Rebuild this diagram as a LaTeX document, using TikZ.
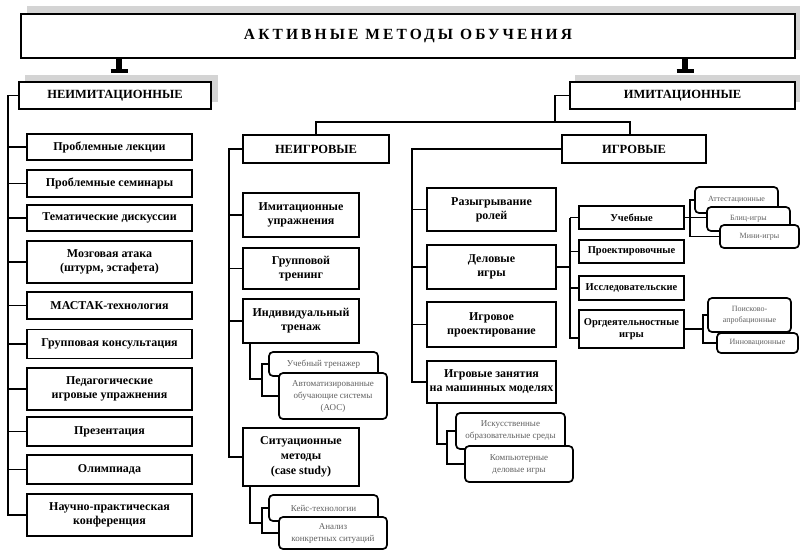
\documentclass[tikz,border=0pt]{standalone}
\usepackage{fontspec}
\setmainfont{Liberation Serif}
\begin{document}
\begin{tikzpicture}[x=1pt,y=-1pt,
  conn/.style={line width=1.9pt},
  shadowc/.style={fill=black!17},
  box/.style={draw, line width=1.7pt, fill=white, inner sep=1pt, align=center,
              font=\bfseries\fontsize{12}{14}\selectfont},
  hbox/.style={box, font=\bfseries\fontsize{12.5}{14}\selectfont},
  dbox/.style={box, font=\bfseries\fontsize{10.5}{12.5}\selectfont},
  rbox/.style={draw, line width=1.7pt, rounded corners=4pt, fill=white, inner sep=1pt,
               align=center, text=black!62, font=\fontsize{9}{12}\selectfont},
  ubox/.style={rbox, font=\fontsize{8}{10.5}\selectfont},
  wh/.style 2 args={minimum width=#1pt, minimum height=#2pt}]
\useasboundingbox (0,0) rectangle (800,550);
\fill[white] (0,0) rectangle (800,550);

% shadows
\fill[shadowc] (27,6) rectangle (800,50);
\fill[shadowc] (25,75) rectangle (218,102);
\fill[shadowc] (575,75) rectangle (800,102);

% title
\node[draw, line width=1.7pt, fill=white, wh={774}{44}] (title) at (408,36)
  {\fontsize{15.5}{18}\selectfont\bfseries\addfontfeatures{LetterSpace=20}АКТИВНЫЕ МЕТОДЫ ОБУЧЕНИЯ};

\coordinate (st1) at (119,71);
\coordinate (st2) at (685,71);
\draw[line width=6pt] (st1 |- title.south) -- (st1);
\draw[line width=3.5pt] (st1) ++(-8.5,0) -- ++(17,0);
\draw[line width=6pt] (st2 |- title.south) -- (st2);
\draw[line width=3.5pt] (st2) ++(-8.5,0) -- ++(17,0);

% top categories
\node[hbox, wh={192}{27}] (nim) at (115,95.5) {НЕИМИТАЦИОННЫЕ};
\node[hbox, wh={225}{27}] (im) at (682.5,95.5) {ИМИТАЦИОННЫЕ};

% left column
\node[box, wh={165}{26}] (L1) at (109.5,147) {Проблемные лекции};
\node[box, wh={165}{27}] (L2) at (109.5,183.5) {Проблемные семинары};
\node[box, wh={165}{26}] (L3) at (109.5,218) {Тематические дискуссии};
\node[box, wh={165}{42}] (L4) at (109.5,262) {Мозговая атака\\(штурм, эстафета)};
\node[box, wh={165}{27}] (L5) at (109.5,305.5) {МАСТАК-технология};
\node[box, wh={165}{29}] (L6) at (109.5,344) {Групповая консультация};
\node[box, wh={165}{42}] (L7) at (109.5,389) {Педагогические\\игровые упражнения};
\node[box, wh={165}{29}] (L8) at (109.5,431.5) {Презентация};
\node[box, wh={165}{29}] (L9) at (109.5,469.5) {Олимпиада};
\node[box, wh={165}{42}] (L10) at (109.5,515) {Научно-практическая\\конференция};

\coordinate (lb) at (8,0);
\draw[conn] (nim.west) -- (nim.west -| lb) -- (L10.west -| lb) -- (L10.west);
\foreach \n in {L1,L2,L3,L4,L5,L6,L7,L8,L9}
  \draw[conn] (\n.west -| lb) -- (\n.west);

% second level
\node[hbox, wh={146}{28}] (neig) at (316,149) {НЕИГРОВЫЕ};
\node[hbox, wh={144}{28}] (igr) at (634,149) {ИГРОВЫЕ};

\coordinate (imx) at (555,122);
\coordinate (ig1) at (630,122);
\draw[conn] (im.west) -- (im.west -| imx) -- (imx);
\draw[conn] (neig.north) -- (neig.north |- imx) -- (ig1) -- (ig1 |- igr.north);

% non-game children
\node[box, wh={116}{44}] (N1) at (301,215) {Имитационные\\упражнения};
\node[box, wh={116}{41}] (N2) at (301,268.5) {Групповой\\тренинг};
\node[box, wh={116}{44}] (N3) at (301,321) {Индивидуальный\\тренаж};
\node[box, wh={116}{58}, font=\bfseries\fontsize{12}{15}\selectfont] (N4) at (301,457) {Ситуационные\\методы\\(case study)};

\coordinate (nb) at (229,0);
\draw[conn] (neig.west) -- (neig.west -| nb) -- (N4.west -| nb) -- (N4.west);
\foreach \n in {N1,N2,N3}
  \draw[conn] (\n.west -| nb) -- (\n.west);

\node[rbox, wh={109}{24}] (s1) at (323.5,364) {Учебный тренажер};
\node[rbox, wh={108}{46}] (s2) at (333,396) {Автоматизированные\\обучающие системы\\(АОС)};
\node[rbox, wh={109}{26}] (s3) at (323.5,508) {Кейс-технологии};
\node[rbox, wh={108}{32}] (s4) at (333,533) {Анализ\\конкретных ситуаций};

\coordinate (n3a) at (250,379);
\coordinate (n3b) at (262,0);
\draw[conn] (n3a |- N3.south) -- (n3a) -- (n3a -| n3b);
\draw[conn] (s1.west) -- (s1.west -| n3b) -- (s2.west -| n3b) -- (s2.west);
\coordinate (n4a) at (250,523);
\draw[conn] (n4a |- N4.south) -- (n4a) -- (n4a -| n3b);
\draw[conn] (s3.west) -- (s3.west -| n3b) -- (s4.west -| n3b) -- (s4.west);

% game children
\node[box, wh={129}{43}] (G1) at (491.5,209.5) {Разыгрывание\\ролей};
\node[box, wh={129}{44}] (G2) at (491.5,267) {Деловые\\игры};
\node[box, wh={129}{45}] (G3) at (491.5,324.5) {Игровое\\проектирование};
\node[box, wh={129}{42}] (G4) at (491.5,382) {Игровые занятия\\на машинных моделях};

\coordinate (gb) at (412,0);
\draw[conn] (igr.west) -- (igr.west -| gb) -- (G4.west -| gb) -- (G4.west);
\foreach \n in {G1,G2,G3}
  \draw[conn] (\n.west -| gb) -- (\n.west);

\node[rbox, wh={109}{36}] (g1) at (510.5,431) {Искусственные\\образовательные среды};
\node[rbox, wh={108}{36}] (g2) at (519,464) {Компьютерные\\деловые игры};
\coordinate (g4a) at (437,444);
\coordinate (g4b) at (447,0);
\draw[conn] (g4a |- G4.south) -- (g4a) -- (g4a -| g4b);
\draw[conn] (g1.west) -- (g1.west -| g4b) -- (g2.west -| g4b) -- (g2.west);

% business games children
\node[dbox, wh={105}{23}] (D1) at (631.5,217.5) {Учебные};
\node[dbox, wh={105}{23}] (D2) at (631.5,251.5) {Проектировочные};
\node[dbox, wh={105}{24}] (D3) at (631.5,288) {Исследовательские};
\node[dbox, wh={105}{38}] (D4) at (631.5,329) {Оргдеятельностные\\игры};

\coordinate (db) at (570,0);
\coordinate (d4t) at (0,338);
\draw[conn] (G2.east) -- (G2.east -| db);
\draw[conn] (D1.west -| db) -- (D1.west);
\draw[conn] (D1.west -| db) -- (d4t -| db) -- (d4t -| D4.west);
\draw[conn] (D2.west -| db) -- (D2.west);
\draw[conn] (D3.west -| db) -- (D3.west);

\node[ubox, wh={83}{26}] (u1) at (736.5,200) {Аттестационные};
\node[ubox, wh={83}{24}] (u2) at (748.5,219) {Блиц-игры};
\node[ubox, wh={79}{23}] (u3) at (759.5,236.5) {Мини-игры};
\coordinate (ub) at (690,0);
\draw[conn] (D1.east) -- (D1.east -| u2.west);
\draw[conn] (u1.west) -- (u1.west -| ub) -- (u3.west -| ub) -- (u3.west);

\node[ubox, wh={83}{34}] (o1) at (749.5,315) {Поисково-\\апробационные};
\node[ubox, wh={81}{20}] (o2) at (757.5,343) {Инновационные};
\coordinate (ob) at (703,0);
\draw[conn] (D4.east) -- (D4.east -| ob);
\draw[conn] (o1.west) -- (o1.west -| ob) -- (o2.west -| ob) -- (o2.west);
\end{tikzpicture}
\end{document}
